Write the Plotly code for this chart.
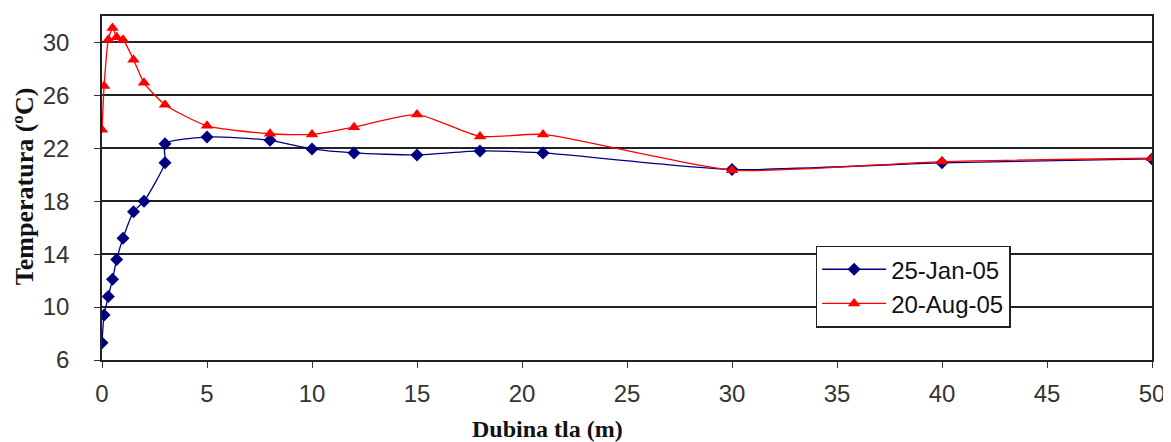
import plotly.graph_objects as go

depth_jan = [0, 0.1, 0.3, 0.5, 0.7, 1, 1.5, 2, 3, 3, 5, 8, 10, 12, 15, 18, 21, 30, 40, 50]
temp_jan = [7.3, 9.4, 10.8, 12.1, 13.6, 15.2, 17.2, 18.0, 20.9, 22.35, 22.85, 22.6, 21.95, 21.65, 21.5, 21.8, 21.65, 20.4, 20.9, 21.2]

depth_aug = [0, 0.1, 0.3, 0.5, 0.7, 1, 1.5, 2, 3, 5, 8, 10, 12, 15, 18, 21, 30, 40, 50]
temp_aug = [23.4, 26.7, 30.2, 31.1, 30.4, 30.2, 28.7, 26.95, 25.3, 23.7, 23.1, 23.05, 23.6, 24.55, 22.9, 23.05, 20.35, 21.0, 21.25]

x_ticks = [0, 5, 10, 15, 20, 25, 30, 35, 40, 45, 50]
y_ticks = [6, 10, 14, 18, 22, 26, 30]

# page has an 8px body margin; build the figure so the plot lands where the reference has it
OFF = 8
W, H = 1171 - OFF, 442 - OFF
L, R, T, B = 102 - OFF, 17, 14 - OFF, 82
plot_w = W - L - R
plot_h = H - T - B


def px_x(page_x):
    return (page_x - OFF - L) / plot_w


def px_y(page_y):
    return (H - B - (page_y - OFF)) / plot_h


fig = go.Figure()
fig.add_trace(go.Scatter(
    x=depth_jan, y=temp_jan, name="25-Jan-05", mode="lines+markers",
    line=dict(color="#000080", width=1.3, shape="spline", smoothing=0.6),
    marker=dict(symbol="diamond", size=10, color="#000080"),
))
fig.add_trace(go.Scatter(
    x=depth_aug, y=temp_aug, name="20-Aug-05", mode="lines+markers",
    line=dict(color="#ff0000", width=1.3, shape="spline", smoothing=0.6),
    marker=dict(symbol="triangle-up", size=11, color="#ff0000"),
))

fig.update_layout(
    width=W, height=H,
    margin=dict(l=L, r=R, t=T, b=B),
    paper_bgcolor="white", plot_bgcolor="white",
    font=dict(family="Liberation Sans, Arial", size=24, color="#333333"),
    showlegend=True,
    legend=dict(
        x=px_x(817), y=px_y(245), xanchor="left", yanchor="top",
        bordercolor="#222222", borderwidth=1.5, bgcolor="white",
        font=dict(family="Liberation Sans, Arial", size=24, color="#111111"),
        itemwidth=64, tracegroupgap=0,
    ),
    xaxis=dict(
        range=[0, 50], tickvals=x_ticks, ticks="outside", ticklen=6, tickcolor="#333333",
        showgrid=False, showline=True, linecolor="#222222", linewidth=1.5, mirror=True,
        zeroline=False, tickfont=dict(size=24, color="#333333"), ticklabelstandoff=5,
    ),
    yaxis=dict(
        range=[6, 32], tickvals=y_ticks, ticks="outside", ticklen=6, tickcolor="#333333",
        showgrid=True, gridcolor="#222222", gridwidth=1.5,
        showline=True, linecolor="#222222", linewidth=1.5, mirror=True,
        zeroline=False, tickfont=dict(size=24, color="#333333"), ticklabelstandoff=20,
    ),
    annotations=[
        dict(text="<b>Dubina tla (m)</b>", x=px_x(548), y=px_y(429),
             xref="paper", yref="paper", xanchor="center", yanchor="middle",
             showarrow=False, font=dict(family="Liberation Serif, Times New Roman", size=24, color="#111111")),
        dict(text="<b>Temperatura (ºC)</b>", x=px_x(24), y=px_y(185),
             xref="paper", yref="paper", xanchor="center", yanchor="middle",
             showarrow=False, textangle=-90,
             font=dict(family="Liberation Serif, Times New Roman", size=26, color="#111111")),
    ],
)

fig.write_html("out.html")
